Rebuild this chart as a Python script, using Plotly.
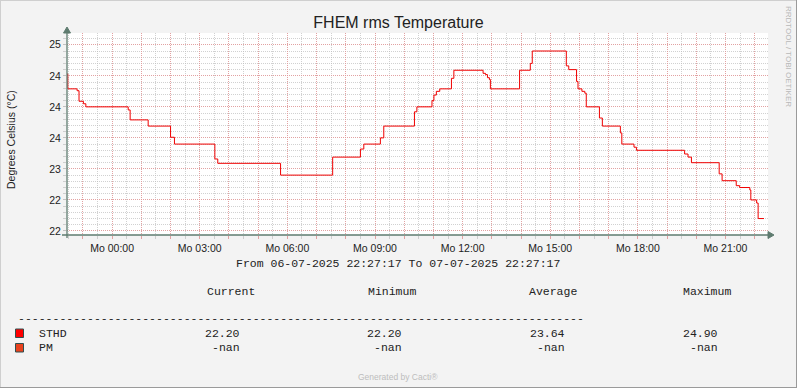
import plotly.graph_objects as go

# ---------------- data ----------------
times = [
    "2025-07-06 22:27", "2025-07-06 22:29", "2025-07-06 22:48", "2025-07-06 22:52",
    "2025-07-06 23:01", "2025-07-06 23:06", "2025-07-07 00:33", "2025-07-07 00:37",
    "2025-07-07 01:14", "2025-07-07 02:00", "2025-07-07 02:08", "2025-07-07 03:31",
    "2025-07-07 03:37", "2025-07-07 05:46", "2025-07-07 07:33", "2025-07-07 08:30",
    "2025-07-07 08:37", "2025-07-07 09:11", "2025-07-07 09:18", "2025-07-07 10:21",
    "2025-07-07 10:26", "2025-07-07 10:57", "2025-07-07 11:01", "2025-07-07 11:06",
    "2025-07-07 11:13", "2025-07-07 11:37", "2025-07-07 11:42", "2025-07-07 12:42",
    "2025-07-07 12:47", "2025-07-07 12:51", "2025-07-07 12:55", "2025-07-07 12:57",
    "2025-07-07 13:57", "2025-07-07 14:19", "2025-07-07 14:23", "2025-07-07 15:33",
    "2025-07-07 15:38", "2025-07-07 15:54", "2025-07-07 15:57", "2025-07-07 16:05",
    "2025-07-07 16:11", "2025-07-07 16:14", "2025-07-07 16:41", "2025-07-07 16:47",
    "2025-07-07 17:24", "2025-07-07 17:27", "2025-07-07 17:52", "2025-07-07 17:57",
    "2025-07-07 19:36", "2025-07-07 19:43", "2025-07-07 19:50", "2025-07-07 20:47",
    "2025-07-07 20:53", "2025-07-07 21:22", "2025-07-07 21:29", "2025-07-07 21:50",
    "2025-07-07 21:52", "2025-07-07 22:04", "2025-07-07 22:07", "2025-07-07 22:19",
]
sthd = [
    24.53, 24.29, 24.26, 24.09,
    24.05, 24.00, 23.95, 23.79,
    23.69, 23.51, 23.40, 23.16,
    23.09, 22.90, 23.19, 23.32,
    23.40, 23.50, 23.69, 23.92,
    24.00, 24.10, 24.19, 24.25,
    24.29, 24.46, 24.59, 24.54,
    24.52, 24.47, 24.44, 24.29,
    24.59, 24.70, 24.90, 24.66,
    24.60, 24.41, 24.29, 24.25,
    24.22, 24.00, 23.82, 23.69,
    23.58, 23.40, 23.35, 23.30,
    23.24, 23.19, 23.10, 22.92,
    22.81, 22.73, 22.70, 22.66,
    22.50, 22.45, 22.20, 22.20,
]
pm = [None] * len(times)

x_start = "2025-07-06 22:27:17"
x_end = "2025-07-07 22:27:17"
hour_ticks = [
    "2025-07-06 23:00", "2025-07-07 00:00", "2025-07-07 01:00", "2025-07-07 02:00",
    "2025-07-07 03:00", "2025-07-07 04:00", "2025-07-07 05:00", "2025-07-07 06:00",
    "2025-07-07 07:00", "2025-07-07 08:00", "2025-07-07 09:00", "2025-07-07 10:00",
    "2025-07-07 11:00", "2025-07-07 12:00", "2025-07-07 13:00", "2025-07-07 14:00",
    "2025-07-07 15:00", "2025-07-07 16:00", "2025-07-07 17:00", "2025-07-07 18:00",
    "2025-07-07 19:00", "2025-07-07 20:00", "2025-07-07 21:00", "2025-07-07 22:00",
]
hour_labels = [
    "", "Mo 00:00", "", "", "Mo 03:00", "", "", "Mo 06:00", "", "", "Mo 09:00", "",
    "", "Mo 12:00", "", "", "Mo 15:00", "", "", "Mo 18:00", "", "", "Mo 21:00", "",
]
y_ticks = [22.0, 22.5, 23.0, 23.5, 24.0, 24.5, 25.0]
y_labels = ["22", "22", "23", "24", "24", "24", "25"]

legend_names = ["STHD", "PM"]
legend_colors = ["#FF0000", "#E8421E"]
col_headers = ["Current", "Minimum", "Average", "Maximum"]
sthd_stats = ["22.20", "22.20", "23.64", "24.90"]
pm_stats = ["-nan", "-nan", "-nan", "-nan"]

# ---------------- geometry ----------------
W, H = 797, 388
L, R, T, B = 67, 29, 33, 153
pw = W - L - R
ph = H - T - B


def px(x):
    return (x - L) / pw


def py(y):
    return (H - B - y) / ph


AXIS = "#5E7B6F"
MONO = "Liberation Mono"
SANS = "Liberation Sans"
MAJ = "rgba(230,150,150,0.8)"
MIN = "rgba(190,190,190,0.7)"
DOT = "1px,1px"

fig = go.Figure()
fig.add_trace(go.Scatter(x=times, y=sthd, mode="lines", name="STHD",
                         line=dict(shape="hv", color="#F00000", width=1),
                         hoverinfo="skip", showlegend=False))
fig.add_trace(go.Scatter(x=times, y=pm, mode="lines", name="PM",
                         line=dict(shape="hv", color="#E8421E", width=1),
                         hoverinfo="skip", showlegend=False))

fig.update_layout(
    width=W, height=H,
    margin=dict(l=L, r=R, t=T, b=B, pad=0),
    paper_bgcolor="#F3F3F3",
    plot_bgcolor="#FFFFFF",
    showlegend=False,
    title=dict(text="FHEM rms Temperature", x=0.5, xanchor="center",
               y=1 - 22 / H, yanchor="middle", yref="container",
               font=dict(family=SANS, size=16, color="#222222")),
    xaxis=dict(
        type="date", range=[x_start, x_end],
        tickmode="array", tickvals=hour_ticks, ticktext=hour_labels,
        showgrid=True, gridcolor=MAJ, griddash=DOT, gridwidth=1,
        ticks="outside", ticklen=3, tickcolor=MAJ,
        tickfont=dict(family=SANS, size=10.5, color="#222222"),
        showline=False, zeroline=False,
        minor=dict(dtick=1800000, tick0="2025-07-06 22:30", showgrid=True,
                   gridcolor=MIN, griddash=DOT, gridwidth=1,
                   ticks="outside", ticklen=3, tickcolor=MIN),
    ),
    yaxis=dict(
        range=[21.935, 25.19],
        tickmode="array", tickvals=y_ticks, ticktext=y_labels,
        showgrid=True, gridcolor=MAJ, griddash=DOT, gridwidth=1,
        ticks="outside", ticklen=3, tickcolor=MIN,
        tickfont=dict(family=SANS, size=10.5, color="#222222"),
        showline=False, zeroline=False,
        minor=dict(dtick=0.1, tick0=22, showgrid=True,
                   gridcolor=MIN, griddash=DOT, gridwidth=1,
                   ticks="outside", ticklen=3, tickcolor=MIN),
    ),
)

shapes = []
# axes with arrows
shapes.append(dict(type="line", xref="paper", yref="paper",
                   x0=px(62), x1=px(769), y0=py(235), y1=py(235),
                   line=dict(color=AXIS, width=1.3)))
shapes.append(dict(type="line", xref="paper", yref="paper",
                   x0=px(67), x1=px(67), y0=py(238), y1=py(32),
                   line=dict(color=AXIS, width=1.3)))
shapes.append(dict(type="path", xref="paper", yref="paper",
                   path=f"M {px(768)} {py(231.5)} L {px(774)} {py(235)} L {px(768)} {py(238.5)} Z",
                   fillcolor=AXIS, line=dict(color=AXIS, width=1)))
shapes.append(dict(type="path", xref="paper", yref="paper",
                   path=f"M {px(63.5)} {py(33)} L {px(67)} {py(27)} L {px(70.5)} {py(33)} Z",
                   fillcolor=AXIS, line=dict(color=AXIS, width=1)))
# image border
shapes.append(dict(type="line", xref="paper", yref="paper", x0=px(0), x1=px(W), y0=py(0.5), y1=py(0.5),
                   line=dict(color="#CFCFCF", width=1)))
shapes.append(dict(type="line", xref="paper", yref="paper", x0=px(0.5), x1=px(0.5), y0=py(0), y1=py(H),
                   line=dict(color="#CFCFCF", width=1)))
shapes.append(dict(type="line", xref="paper", yref="paper", x0=px(0), x1=px(W), y0=py(H - 0.5), y1=py(H - 0.5),
                   line=dict(color="#9A9A9A", width=1)))
shapes.append(dict(type="line", xref="paper", yref="paper", x0=px(W - 0.5), x1=px(W - 0.5), y0=py(0), y1=py(H),
                   line=dict(color="#9A9A9A", width=1)))
# legend squares
for i, c in enumerate(legend_colors):
    y0 = 329 + 14.5 * i
    shapes.append(dict(type="rect", xref="paper", yref="paper",
                       x0=px(15.5), x1=px(23.5), y0=py(y0), y1=py(y0 + 8.5),
                       fillcolor=c, line=dict(color="#2F4F4F", width=1)))
fig.update_layout(shapes=shapes)

ann = []


def text(x, y, s, xanchor="left", size=11.5, family=MONO, color="#222222", angle=0):
    ann.append(dict(xref="paper", yref="paper", x=px(x), y=py(y), text=s,
                    showarrow=False, xanchor=xanchor, yanchor="middle",
                    textangle=angle, font=dict(family=family, size=size, color=color)))


text(11, 140, "Degrees Celsius (°C)", xanchor="center", size=10.5, family=SANS, angle=-90)
text(789, 56, "RRDTOOL / TOBI OETIKER", xanchor="center", size=8, family=SANS,
     color="#B8B8B8", angle=90)
text(234, 263, "From 06-07-2025 22:27:17 To 07-07-2025 22:27:17")

header_x = [204.5, 365.5, 527, 680.5]
for hx, h in zip(header_x, col_headers):
    text(hx, 291, h)
text(16, 318, "-" * 82)

value_right = [242, 404, 567, 720]
for nm_i, (name, stats) in enumerate(zip(legend_names, [sthd_stats, pm_stats])):
    yy = 333.5 + 14 * nm_i
    text(36.5, yy, name)
    for vx, v in zip(value_right, stats):
        text(vx, yy, v, xanchor="right")

text(398, 377, "Generated by Cacti®", xanchor="center", size=8.5, family=SANS, color="#BDBDBD")
fig.update_layout(annotations=ann)

fig.write_html("out.html", config={"displayModeBar": False},
               post_script="document.body.style.margin='0';")
